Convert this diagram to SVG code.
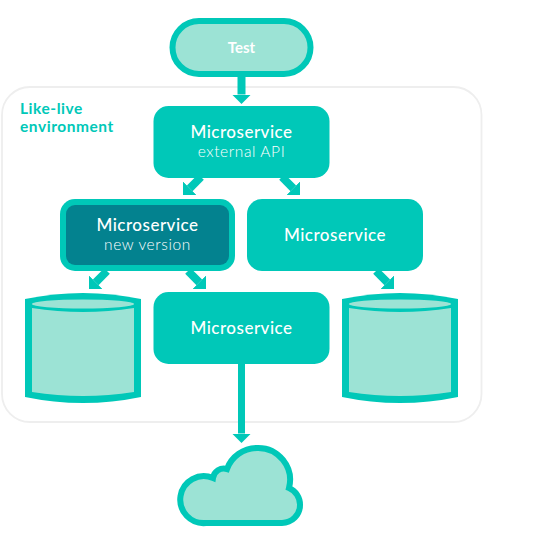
<svg xmlns="http://www.w3.org/2000/svg" width="540" height="545" viewBox="0 0 540 545">
<style>
text{font-family:Lato,"Open Sans","Liberation Sans",sans-serif;text-anchor:middle;fill:#fff}
.t{font-size:17px;font-weight:500;letter-spacing:.5px}
.s{font-size:15.500px;font-weight:300;letter-spacing:.6px}
.l{text-anchor:start;fill:#00c8b8;font-size:15.500px;font-weight:700;letter-spacing:.55px}
.box{fill:#00c8b8}
.light{fill:#9ce3d5}
.ol{fill:#9ce3d5;stroke:#00c8b8;stroke-width:6}
.c{stroke:#00c8b8;stroke-width:8;fill:none;marker-end:url(#a)}
</style>
<defs>
<marker id="a" markerUnits="userSpaceOnUse" markerWidth="12" markerHeight="22" refX="0" refY="11" orient="auto" viewBox="0 0 12 22"><path d="M0,1.500L9.500,11L0,20.500Z" fill="#00c8b8"/></marker>
<path id="cyl" d="M0,6Q58,-6 116,6V104Q58,116 0,104Z" fill="#00c8b8"/>
</defs>
<rect id="environment-frame" x="2" y="87" width="479.500" height="335" rx="28" fill="none" stroke="#eeeeee" stroke-width="1.800"/>
<g id="environment-label"><text class="l" x="20" y="114">Like-live</text><text class="l" x="20" y="132">environment</text></g>
<g id="connectors">
<path class="c" d="M241.500,77V94.500"/>
<path class="c" d="M201,177L189.700,188.300"/>
<path class="c" d="M282,177L293.300,188.300"/>
<path class="c" d="M107,271L95.700,282.300"/>
<path class="c" d="M188,271L199.300,282.300"/>
<path class="c" d="M376,271L387.300,282.300"/>
<path class="c" d="M241.500,364V433.500" style="stroke-width:7"/>
</g>
<g id="test"><rect class="ol" x="172.500" y="21" width="138" height="53" rx="26.500"/><text x="241.500" y="52.500" style="font-size:15px;font-weight:700">Test</text></g>
<g id="external-api"><rect class="box" x="153.500" y="106" width="176" height="72" rx="15"/><text class="t" x="241.500" y="137.500">Microservice</text><text class="s" x="241.500" y="157">external API</text></g>
<g id="new-version"><rect class="box" x="60" y="199" width="175" height="72" rx="15"/><rect x="66" y="205" width="163" height="60" rx="9" fill="#03828f"/><text class="t" x="147.500" y="230.500">Microservice</text><text class="s" x="147.500" y="250">new version</text></g>
<g id="microservice-right"><rect class="box" x="247" y="199" width="176" height="72" rx="15"/><text class="t" x="335" y="240.500">Microservice</text></g>
<g id="microservice-middle"><rect class="box" x="153.500" y="292" width="176" height="72" rx="15"/><text class="t" x="241.500" y="333.500">Microservice</text></g>
<g id="db-left"><use href="#cyl" x="25" y="293"/><path class="light" d="M32,308Q83,316 134,308V392Q83,400 32,392Z"/><ellipse class="light" cx="83" cy="304" rx="51" ry="4.500"/></g>
<g id="db-right"><use href="#cyl" x="342" y="293"/><path class="light" d="M349,308Q400,316 451,308V392Q400,400 349,392Z"/><ellipse class="light" cx="400" cy="304" rx="51" ry="4.500"/></g>
<g id="cloud"><path class="ol" d="M206,523H282A18,18 0 0 0 300,505A18,18 0 0 0 289,488A32,32 0 0 0 257,448A32,32 0 0 0 227,469A11,11 0 0 0 213,478A23.500,23.500 0 1 0 206,523Z"/></g>
</svg>
